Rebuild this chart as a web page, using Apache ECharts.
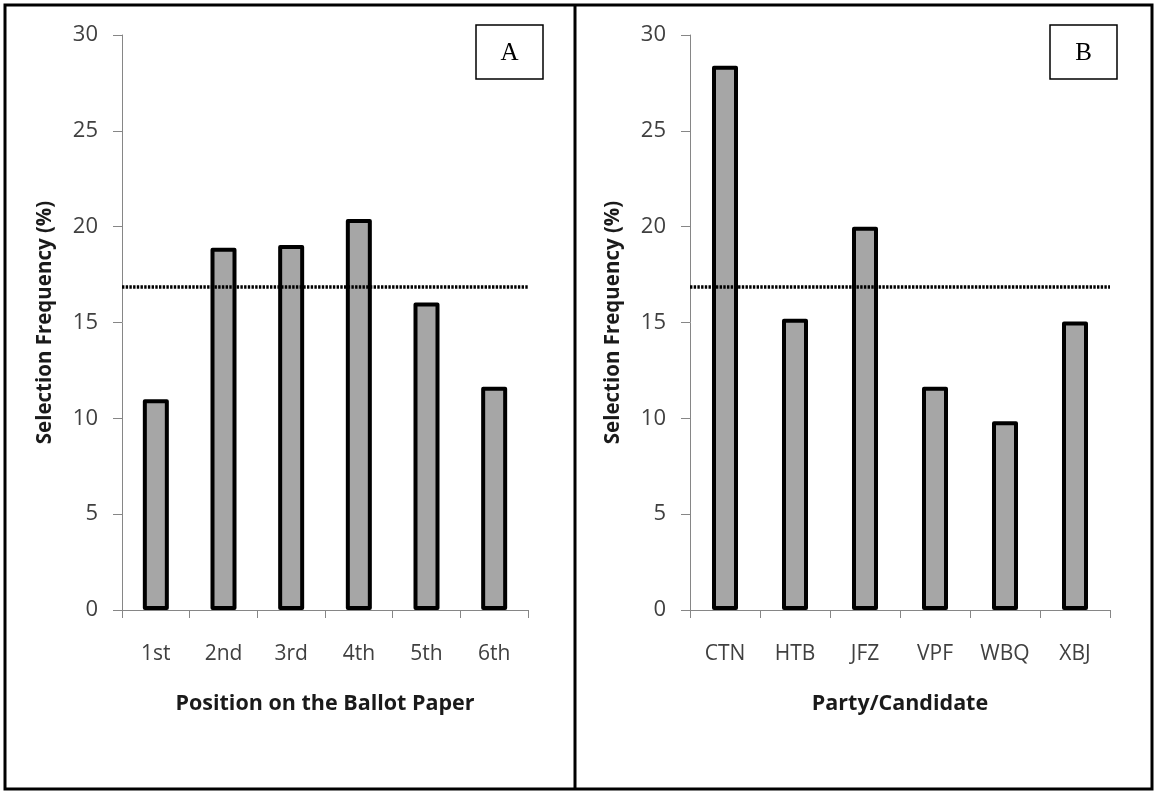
<!DOCTYPE html>
<html>
<head>
<meta charset="utf-8">
<script src="https://cdn.jsdelivr.net/npm/echarts@6/dist/echarts.min.js"></script>
<style>
html,body{margin:0;padding:0;background:#fff;}
#chart{width:1155px;height:791px;}
</style>
</head>
<body>
<div id="chart"></div>
<script>
// ---- data ----
const positions = ['1st', '2nd', '3rd', '4th', '5th', '6th'];
const positionFreq = [11.0, 18.9, 19.05, 20.4, 16.05, 11.65];
const parties = ['CTN', 'HTB', 'JFZ', 'VPF', 'WBQ', 'XBJ'];
const partyFreq = [28.4, 15.2, 20.0, 11.65, 9.85, 15.05];
const expectedFreq = 16.85;
const yMin = 0, yMax = 30, yStep = 5;
const panelLabels = ['A', 'B'];
const xTitles = ['Position on the Ballot Paper', 'Party/Candidate'];
const yTitle = 'Selection Frequency (%)';

const FONT = 'Open Sans';
const axisGray = '#868686';

function makeX(idx, cats) {
  return {
    type: 'category', gridIndex: idx, data: cats,
    axisLine: { lineStyle: { color: axisGray, width: 1 } },
    axisTick: { show: true, length: 8, lineStyle: { color: axisGray } },
    axisLabel: { fontFamily: FONT, fontSize: 21, color: '#404040', margin: 34 },
    name: xTitles[idx], nameLocation: 'middle', nameGap: 83,
    nameTextStyle: { fontFamily: FONT, fontSize: 21.5, fontWeight: 'bold', color: '#1a1a1a' }
  };
}
function makeY(idx) {
  return {
    type: 'value', gridIndex: idx, min: yMin, max: yMax, interval: yStep,
    axisLine: { show: true, lineStyle: { color: axisGray, width: 1 } },
    axisTick: { show: true, length: 9, lineStyle: { color: axisGray } },
    splitLine: { show: false },
    axisLabel: { fontFamily: FONT, fontSize: 22, color: '#404040', margin: 24 },
    name: yTitle, nameLocation: 'middle', nameRotate: 90, nameGap: 66,
    nameTextStyle: { fontFamily: FONT, fontSize: 20.5, fontWeight: 'bold', color: '#1a1a1a' }
  };
}
function makeBar(idx, vals) {
  return {
    type: 'bar', xAxisIndex: idx, yAxisIndex: idx, data: vals,
    barWidth: 26,
    itemStyle: { color: '#a6a6a6', borderColor: '#000', borderWidth: 4, borderJoin: 'round' },
    markLine: {
      silent: true, symbol: 'none', label: { show: false },
      lineStyle: { color: '#000', width: 3.6, type: [2.4, 1.3] },
      data: [{ yAxis: expectedFreq }]
    }
  };
}
function labelBox(x, text) {
  return {
    type: 'group',
    children: [
      { type: 'rect', shape: { x: x, y: 25, width: 67, height: 54 },
        style: { fill: '#fff', stroke: '#000', lineWidth: 1.5 } },
      { type: 'text', x: x + 33.5, y: 53,
        style: { text: text, fontFamily: 'Liberation Serif', fontSize: 25, fill: '#000',
                 align: 'center', verticalAlign: 'middle' } }
    ]
  };
}

const chart = echarts.init(document.getElementById('chart'), null, { renderer: 'canvas' });
chart.setOption({
  animation: false,
  backgroundColor: '#fff',
  grid: [
    { left: 122, top: 35, right: 1155 - 528, bottom: 791 - 610 },
    { left: 690, top: 35, right: 1155 - 1110, bottom: 791 - 610 }
  ],
  xAxis: [makeX(0, positions), makeX(1, parties)],
  yAxis: [makeY(0), makeY(1)],
  series: [makeBar(0, positionFreq), makeBar(1, partyFreq)],
  graphic: [
    { type: 'rect', shape: { x: 5, y: 5, width: 1147, height: 784 },
      style: { fill: 'none', stroke: '#000', lineWidth: 3 } },
    { type: 'line', shape: { x1: 575, y1: 5, x2: 575, y2: 789 },
      style: { stroke: '#000', lineWidth: 3 } },
    labelBox(476, panelLabels[0]),
    labelBox(1050, panelLabels[1])
  ]
});
</script>
</body>
</html>
